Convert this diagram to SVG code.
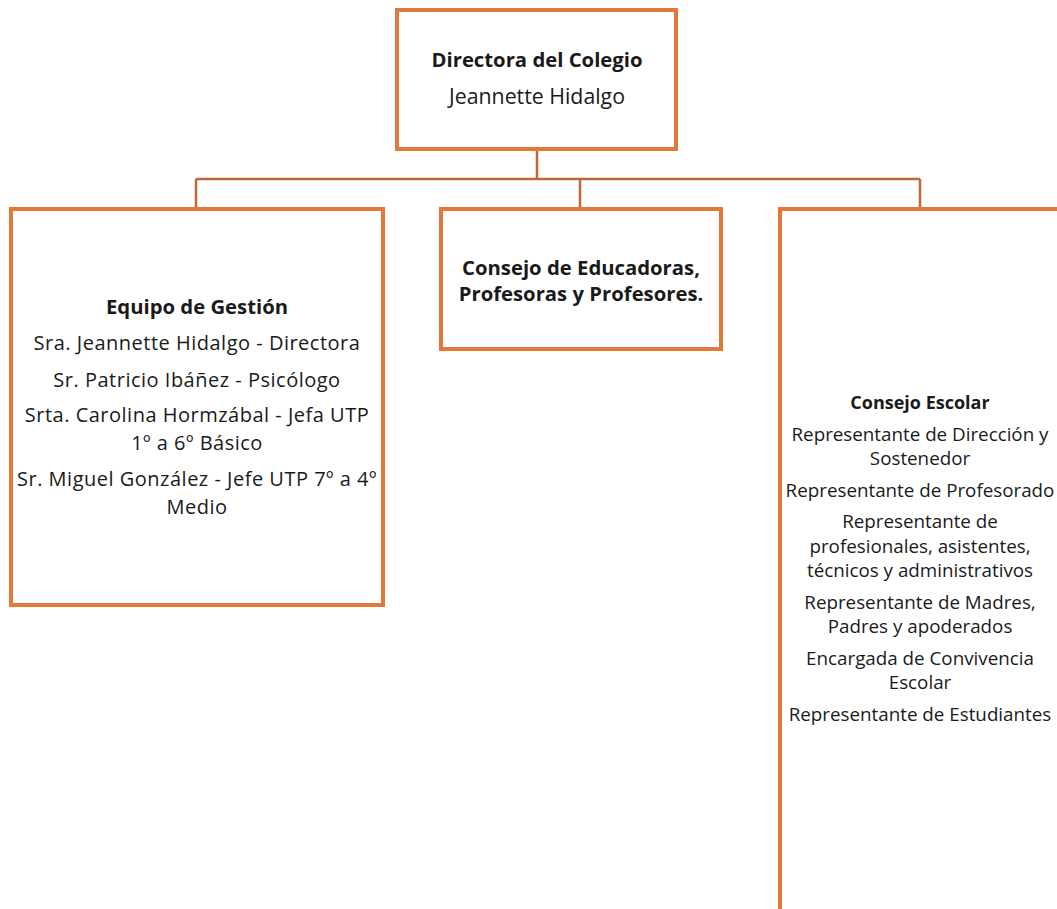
<svg xmlns="http://www.w3.org/2000/svg" width="1057" height="909" viewBox="0 0 1057 909">
<style>
.box{fill:#FFFFFF;stroke:#E2783A;stroke-width:4}
.conn{fill:none;stroke:#C0683A;stroke-width:2.5}
text{font-family:"Open Sans","Liberation Sans",Arial,sans-serif;fill:#1a1a1a;text-anchor:middle}
.l{font-size:21.3px}
.m{font-size:20px;letter-spacing:0.5px}
.lb{font-size:20.3px;font-weight:bold}
.s{font-size:18.8px}
.sb{font-size:18px;font-weight:bold}
</style>
<rect width="1057" height="909" fill="#FFFFFF"/>
<g id="connectors">
<path class="conn" d="M537 150 V179 M196 179 H920 M196 179 V207 M580 179 V207 M920 179 V207"/>
</g>
<g id="directora">
<rect class="box" x="397" y="10" width="279" height="139"/>
<text class="lb" x="537" y="67">Directora del Colegio</text>
<text class="l" x="537" y="104">Jeannette Hidalgo</text>
</g>
<g id="equipo">
<rect class="box" x="11" y="209" width="372" height="396"/>
<text class="lb" x="197" y="314">Equipo de Gestión</text>
<text class="m" x="197" y="350">Sra. Jeannette Hidalgo - Directora</text>
<text class="m" x="197" y="387">Sr. Patricio Ibáñez - Psicólogo</text>
<text class="m" x="197" y="422">Srta. Carolina Hormzábal - Jefa UTP<tspan x="197" dy="27.5">1º a 6º Básico</tspan></text>
<text class="m" x="197" y="486">Sr. Miguel González - Jefe UTP 7º a 4º<tspan x="197" dy="27.5">Medio</tspan></text>
</g>
<g id="consejo-educadoras">
<rect class="box" x="441" y="209" width="280" height="140"/>
<text class="lb" x="581" y="275">Consejo de Educadoras,<tspan x="581" dy="26">Profesoras y Profesores.</tspan></text>
</g>
<g id="consejo-escolar">
<rect class="box" x="780" y="209" width="300" height="720"/>
<text class="sb" x="920" y="409">Consejo Escolar</text>
<text class="s" x="920" y="441">Representante de Dirección y<tspan x="920" dy="24">Sostenedor</tspan></text>
<text class="s" x="920" y="497">Representante de Profesorado</text>
<text class="s" x="920" y="528">Representante de<tspan x="920" dy="25">profesionales, asistentes,</tspan><tspan x="920" dy="24">técnicos y administrativos</tspan></text>
<text class="s" x="920" y="609">Representante de Madres,<tspan x="920" dy="24">Padres y apoderados</tspan></text>
<text class="s" x="920" y="665">Encargada de Convivencia<tspan x="920" dy="24">Escolar</tspan></text>
<text class="s" x="920" y="721">Representante de Estudiantes</text>
</g>
</svg>
